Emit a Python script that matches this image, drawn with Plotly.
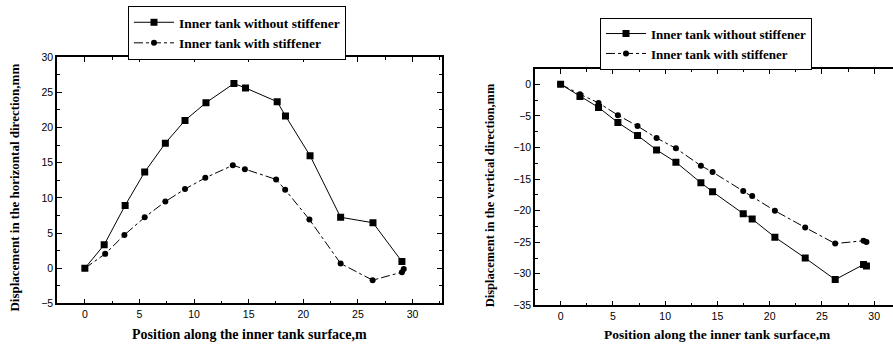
import plotly.graph_objects as go

# ---- data ----
x_h_without = [0, 1.77, 3.69, 5.48, 7.37, 9.17, 11.09, 13.65, 14.71, 17.61, 18.37, 20.62, 23.42, 26.38, 29.03]
y_h_without = [0, 3.34, 8.94, 13.68, 17.78, 21.02, 23.53, 26.26, 25.63, 23.67, 21.66, 16.0, 7.25, 6.47, 0.96]
x_h_with = [0, 1.86, 3.62, 5.48, 7.37, 9.17, 11.03, 13.55, 14.65, 17.51, 18.34, 20.56, 23.42, 26.35, 29.03, 29.2]
y_h_with = [0, 2.05, 4.74, 7.25, 9.48, 11.26, 12.86, 14.64, 14.09, 12.63, 11.17, 6.93, 0.68, -1.69, -0.55, -0.09]

x_v = [0, 1.85, 3.63, 5.48, 7.36, 9.18, 11.03, 13.42, 14.54, 17.47, 18.33, 20.5, 23.4, 26.27, 28.98, 29.26]
y_v_without = [0, -1.94, -3.67, -6.06, -8.1, -10.39, -12.33, -15.59, -17.01, -20.48, -21.34, -24.2, -27.5, -30.92, -28.53, -28.78]
y_v_with = [0, -1.58, -2.95, -4.89, -6.62, -8.51, -10.14, -12.89, -13.9, -16.91, -17.68, -20.02, -22.67, -25.22, -24.76, -24.96]

name_without = "Inner tank without stiffener"
name_with = "Inner tank with stiffener"
x_title = "Position along the inner tank surface,m"
y_title_h = "Displacement in the horizontal direction,mm"
y_title_v = "Displacement in the vertical direction,mm"

SERIF = "Liberation Serif, Times New Roman, serif"
SANS = "Liberation Sans, Arial, sans-serif"

fig = go.Figure()

def add(x, y, name, symbol, dash, xa, ya, legend, size):
    fig.add_trace(go.Scatter(
        x=x, y=y, name="<b>" + name + "</b>", mode="lines+markers",
        line=dict(color="black", width=1, dash=dash),
        marker=dict(symbol=symbol, size=size, color="black"),
        xaxis=xa, yaxis=ya, legend=legend))

add(x_h_without, y_h_without, name_without, "square", "solid", "x", "y", "legend", 7)
add(x_h_with, y_h_with, name_with, "circle", "dashdot", "x", "y", "legend", 6)
add(x_v, y_v_without, name_without, "square", "solid", "x2", "y2", "legend2", 7)
add(x_v, y_v_with, name_with, "circle", "dashdot", "x2", "y2", "legend2", 6)

W, H = 893, 351

def ax(domain, rng, dtick, mirror=True, anchor=None):
    d = dict(domain=domain, range=rng, dtick=dtick, tick0=0,
             showgrid=False, zeroline=False, showline=True, linecolor="black",
             linewidth=1.5, mirror=("ticks" if mirror else False),
             ticks="inside", ticklen=5, tickwidth=1, tickcolor="black",
             minor=dict(ticks="inside", ticklen=3, dtick=dtick / 2, tick0=0,
                        tickcolor="black", showgrid=False),
             tickfont=dict(family=SANS, size=10.5, color="black"))
    if anchor:
        d["anchor"] = anchor
    return d

fig.update_layout(
    width=W, height=H,
    margin=dict(l=0, r=0, t=0, b=0),
    paper_bgcolor="white", plot_bgcolor="white",
    xaxis=ax([57 / W, 442 / W], [-2.55, 32.7], 5, anchor="y"),
    yaxis=ax([(H - 308) / H, (H - 53) / H], [-5, 30], 5, anchor="x"),
    xaxis2=ax([535 / W, 1.0], [-2.45, 31.8], 5, anchor="y2"),
    yaxis2=ax([(H - 310) / H, (H - 65) / H], [-35, 2.45], 5, mirror=False, anchor="x2"),
    legend=dict(x=128 / W, y=1.0, xanchor="left", yanchor="top",
                bgcolor="white", bordercolor="black", borderwidth=1,
                font=dict(family=SERIF, size=13.5, color="black"), itemwidth=40,
                tracegroupgap=0),
    legend2=dict(x=600 / W, y=1 - 12 / H, xanchor="left", yanchor="top",
                 bgcolor="white", bordercolor="black", borderwidth=1,
                 font=dict(family=SERIF, size=13, color="black"), itemwidth=40,
                 tracegroupgap=0),
    showlegend=True,
)

ann_font = dict(family=SERIF, size=13, color="black")
fig.add_annotation(text="<b>" + y_title_h + "</b>", textangle=-90, x=15 / W, y=1 - 188 / H,
                   xref="paper", yref="paper", showarrow=False, font=ann_font,
                   xanchor="center", yanchor="middle")
fig.add_annotation(text="<b>" + x_title + "</b>", x=249 / W, y=1 - 340 / H,
                   xref="paper", yref="paper", showarrow=False,
                   font=dict(family=SERIF, size=14, color="black"),
                   xanchor="center", yanchor="middle")
fig.add_annotation(text="<b>" + y_title_v + "</b>", textangle=-90, x=490 / W, y=1 - 196 / H,
                   xref="paper", yref="paper", showarrow=False,
                   font=dict(family=SERIF, size=12.5, color="black"),
                   xanchor="center", yanchor="middle")
fig.add_annotation(text="<b>" + x_title + "</b>", x=717 / W, y=1 - 340 / H,
                   xref="paper", yref="paper", showarrow=False,
                   font=dict(family=SERIF, size=13.5, color="black"),
                   xanchor="center", yanchor="middle")

fig.write_html("out.html", config={"displayModeBar": False},
               post_script="document.body.style.margin='0px';document.body.style.overflow='hidden';")
